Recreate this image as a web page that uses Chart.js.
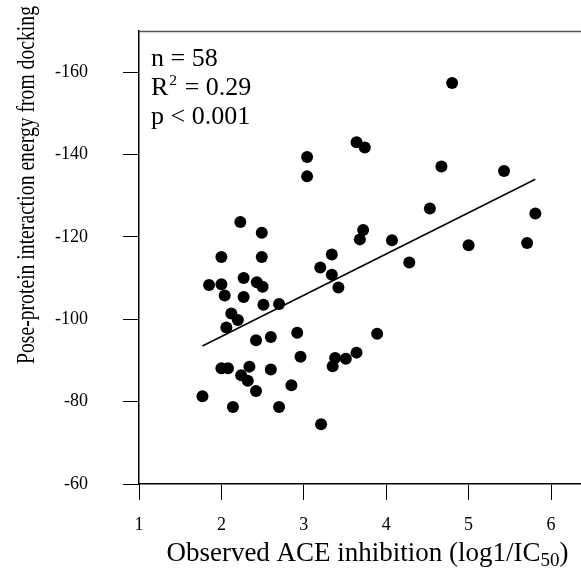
<!DOCTYPE html>
<html>
<head>
<meta charset="utf-8">
<script src="https://cdn.jsdelivr.net/npm/chart.js@4.4.1/dist/chart.umd.min.js"></script>
<style>
  html, body { margin: 0; padding: 0; background: #fff; }
  #wrap { width: 581px; height: 570px; position: relative; }
</style>
</head>
<body>
<div id="wrap"><canvas id="c" width="581" height="570"></canvas></div>
<script>
// ---- data ----
const obsX = [2.23, 2.49, 2.00, 2.49, 1.85, 2.00, 2.27, 2.43, 2.50, 2.04,
              2.27, 2.51, 2.70, 2.12, 2.20, 2.06, 2.42, 2.60, 2.92, 2.96,
              2.00, 2.08, 2.34, 2.60, 2.24, 2.32, 2.42, 2.85, 1.77, 2.14,
              2.70, 3.64, 3.74, 3.04, 3.04, 4.53, 3.72, 3.68, 4.07, 3.34,
              3.20, 3.34, 3.42, 4.28, 3.89, 3.38, 3.35, 3.51, 3.64, 3.21,
              4.80, 4.67, 5.43, 5.81, 5.00, 5.71];
const energy = [-123.6, -121.0, -115.1, -115.1, -108.3, -108.5, -110.0, -109.0, -107.9, -105.8,
                -105.4, -103.5, -103.7, -101.4, -99.8, -98.0, -94.9, -95.7, -96.7, -90.9,
                -88.1, -88.1, -88.5, -87.8, -86.4, -85.1, -82.6, -84.0, -81.3, -78.7,
                -78.7, -143.0, -141.7, -139.4, -134.7, -126.9, -121.7, -119.4, -119.2, -115.7,
                -112.6, -110.8, -107.7, -113.8, -96.5, -90.6, -88.6, -90.4, -91.9, -74.5,
                -157.4, -137.1, -136.0, -125.7, -118.0, -118.5];
const fitX = [1.77, 5.81];
const fitY = [-93.5, -134.0];
const xTicks = [1, 2, 3, 4, 5, 6];
const yTicks = [-160, -140, -120, -100, -80, -60];
const statsLines = ["n = 58", "R|2| = 0.29", "p < 0.001"];
const xTitle = ["Observed ACE inhibition (log1/IC", "50", ")"];
const yTitle = "Pose-protein interaction energy from docking";

const FONT = "'Liberation Serif', 'Times New Roman', serif";

const points = obsX.map((x, i) => ({ x: x, y: energy[i] }));
const fitLine = fitX.map((x, i) => ({ x: x, y: fitY[i] }));

const decor = {
  id: 'decor',
  afterDraw(chart) {
    const ctx = chart.ctx;
    const a = chart.chartArea;
    ctx.save();
    // top frame line
    ctx.strokeStyle = '#555';
    ctx.lineWidth = 1.5;
    ctx.beginPath();
    ctx.moveTo(a.left, a.top + 0.5);
    ctx.lineTo(chart.width, a.top + 0.5);
    ctx.stroke();

    // stats text
    ctx.fillStyle = '#000';
    ctx.textBaseline = 'alphabetic';
    ctx.textAlign = 'left';
    const fs = 26;
    const baselines = [66, 95, 124];
    statsLines.forEach((line, i) => {
      let x = 151;
      const parts = line.split('|');
      parts.forEach((p, j) => {
        if (j % 2 === 1) {
          ctx.font = (fs * 0.6) + 'px ' + FONT;
          ctx.fillText(p, x + 1, baselines[i] - fs * 0.4);
          x += ctx.measureText(p).width + 2;
        } else {
          ctx.font = fs + 'px ' + FONT;
          ctx.fillText(p, x, baselines[i]);
          x += ctx.measureText(p).width;
        }
      });
    });

    // x axis title
    const tfs = 27;
    const sfs = 19;
    ctx.font = tfs + 'px ' + FONT;
    let w0 = ctx.measureText(xTitle[0]).width;
    ctx.font = sfs + 'px ' + FONT;
    let w1 = ctx.measureText(xTitle[1]).width;
    ctx.font = tfs + 'px ' + FONT;
    let w2 = ctx.measureText(xTitle[2]).width;
    let total = w0 + w1 + w2;
    let x = 367.5 - total / 2;
    const by = 561;
    ctx.fillText(xTitle[0], x, by);
    x += w0;
    ctx.font = sfs + 'px ' + FONT;
    ctx.fillText(xTitle[1], x, by + 5);
    x += w1;
    ctx.font = tfs + 'px ' + FONT;
    ctx.fillText(xTitle[2], x, by);

    // y axis title (condensed along its length, as in the reference)
    ctx.save();
    ctx.translate(34, 364);
    ctx.rotate(-Math.PI / 2);
    ctx.font = '26px ' + FONT;
    const yw = ctx.measureText(yTitle).width;
    ctx.scale(358 / yw, 1);
    ctx.textAlign = 'left';
    ctx.fillText(yTitle, 0, 0);
    ctx.restore();

    ctx.restore();
  }
};

function noPad(scale) {
  scale.paddingTop = 0;
  scale.paddingBottom = 0;
  scale.paddingLeft = 0;
  scale.paddingRight = 0;
}

new Chart(document.getElementById('c'), {
  type: 'scatter',
  data: {
    datasets: [
      {
        label: 'fit',
        type: 'line',
        data: fitLine,
        borderColor: '#000',
        borderWidth: 1.5,
        pointRadius: 0,
        fill: false,
        tension: 0,
        order: 1
      },
      {
        label: 'compounds',
        data: points,
        backgroundColor: '#000',
        borderColor: '#000',
        borderWidth: 0,
        pointRadius: 6,
        pointHoverRadius: 6,
        order: 0
      }
    ]
  },
  options: {
    responsive: false,
    animation: false,
    devicePixelRatio: 1,
    layout: { autoPadding: false, padding: { top: 31, right: 0, left: 0, bottom: 0 } },
    plugins: {
      legend: { display: false },
      tooltip: { enabled: false },
      title: { display: false }
    },
    scales: {
      x: {
        type: 'linear',
        min: 1,
        max: 6.364,
        afterBuildTicks(scale) { scale.ticks = xTicks.map(v => ({ value: v })); },
        afterFit(scale) { scale.height = 86; noPad(scale); },
        grid: { drawOnChartArea: false, drawTicks: true, tickLength: 16, color: '#000', lineWidth: 1 },
        border: { display: true, color: '#000', width: 1.5 },
        ticks: {
          color: '#000',
          font: { family: FONT, size: 18 },
          padding: 14,
          maxRotation: 0,
          autoSkip: false,
          callback: v => String(v)
        }
      },
      y: {
        type: 'linear',
        reverse: true,
        min: -170,
        max: -60,
        afterBuildTicks(scale) { scale.ticks = yTicks.map(v => ({ value: v })); },
        afterFit(scale) { scale.width = 139; noPad(scale); },
        grid: { drawOnChartArea: false, drawTicks: true, tickLength: 16, color: '#000', lineWidth: 1 },
        border: { display: true, color: '#000', width: 1.5 },
        ticks: {
          color: '#000',
          font: { family: FONT, size: 18 },
          padding: 35,
          autoSkip: false,
          callback: v => String(v)
        }
      }
    }
  },
  plugins: [decor]
});
</script>
</body>
</html>
